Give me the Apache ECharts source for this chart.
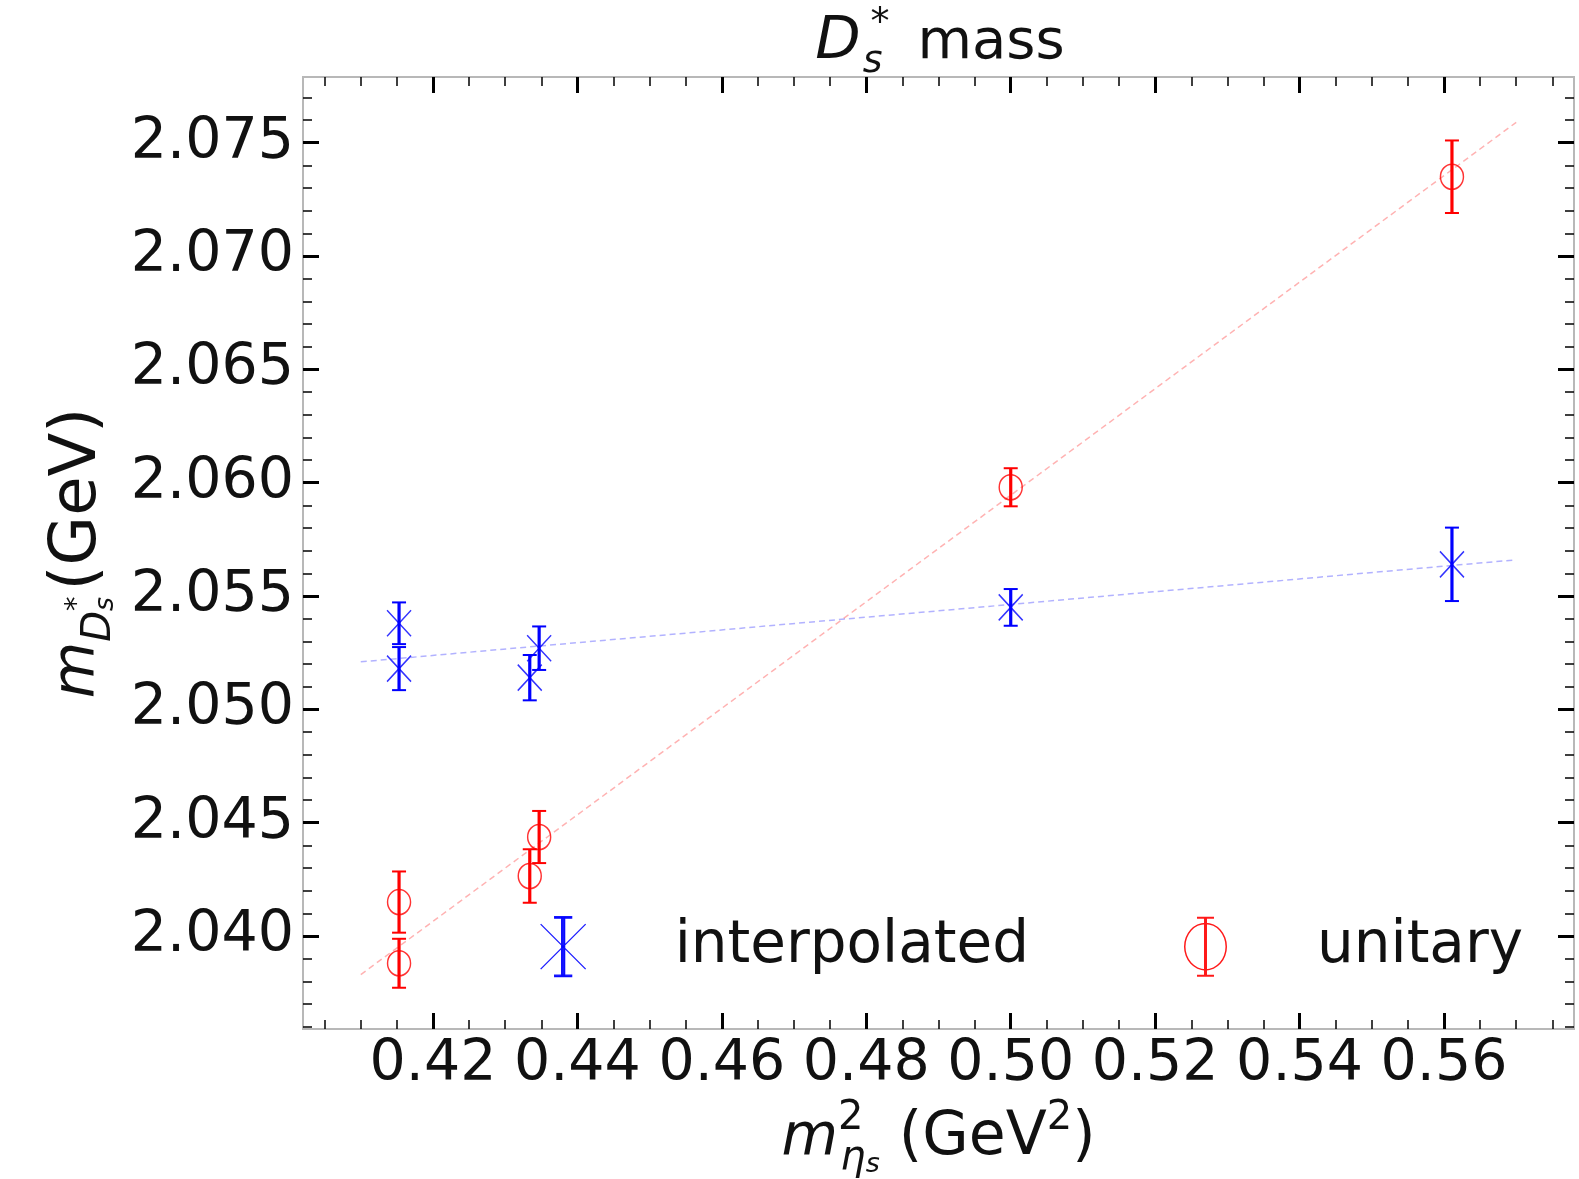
<!DOCTYPE html>
<html><head><meta charset="utf-8">
<script src="https://cdn.jsdelivr.net/npm/echarts@6/dist/echarts.min.js"></script>
<style>html,body{margin:0;padding:0;background:#fff}#c{width:1579px;height:1179px}</style>
</head><body><div id="c"></div>
<script>
// ---- data ----
const xMajorTicks = [0.42, 0.44, 0.46, 0.48, 0.50, 0.52, 0.54, 0.56];
const xMinorTicks = [0.405, 0.41, 0.415, 0.425, 0.43, 0.435, 0.445, 0.45, 0.455, 0.465, 0.47, 0.475,
  0.485, 0.49, 0.495, 0.505, 0.51, 0.515, 0.525, 0.53, 0.535, 0.545, 0.55, 0.555, 0.565, 0.57, 0.575];
const yMajorTicks = [2.040, 2.045, 2.050, 2.055, 2.060, 2.065, 2.070, 2.075];
const yMinorTicks = [2.036, 2.037, 2.038, 2.039, 2.041, 2.042, 2.043, 2.044, 2.046, 2.047, 2.048, 2.049,
  2.051, 2.052, 2.053, 2.054, 2.056, 2.057, 2.058, 2.059, 2.061, 2.062, 2.063, 2.064,
  2.066, 2.067, 2.068, 2.069, 2.071, 2.072, 2.073, 2.074, 2.076, 2.077];
const massX      = [0.4153, 0.4153, 0.4334, 0.4347, 0.5000, 0.5611];
const interpY    = [2.0538, 2.0518, 2.0514, 2.0527, 2.0545, 2.0564];
const interpErr  = [0.00092, 0.00095, 0.00100, 0.00096, 0.00081, 0.00162];
const unitaryY   = [2.0415, 2.0388, 2.04265, 2.04437, 2.0598, 2.0735];
const unitaryErr = [0.00135, 0.00108, 0.00118, 0.00115, 0.00084, 0.00160];
const fitX        = [0.41, 0.57];
const interpFitY  = [2.0521, 2.0566];
const unitaryFitY = [2.0383, 2.0759];
const xMin = 0.402, xMax = 0.578, yMin = 2.0359, yMax = 2.0779;

const FONT = 'DejaVu Sans';
const BLUE = '#0000ff', RED = '#ff0000';

function pts(xs, ys) { return xs.map((x, i) => [x, ys[i]]); }
function errPts(xs, ys, es) { return xs.map((x, i) => [x, ys[i], es[i]]); }

function errRender(color) {
  return function (params, api) {
    const x = api.value(0), y = api.value(1), e = api.value(2);
    const t = api.coord([x, y + e]), b = api.coord([x, y - e]);
    const cw = 7;
    return { type: 'group', children: [
      { type: 'line', shape: { x1: t[0], y1: t[1], x2: b[0], y2: b[1] }, style: { stroke: color, lineWidth: 3.2 } },
      { type: 'line', shape: { x1: t[0] - cw, y1: t[1], x2: t[0] + cw, y2: t[1] }, style: { stroke: color, lineWidth: 2 } },
      { type: 'line', shape: { x1: b[0] - cw, y1: b[1], x2: b[0] + cw, y2: b[1] }, style: { stroke: color, lineWidth: 2 } }
    ]};
  };
}

function xAx(pos, ticks, len, w, withLabel, extra) {
  return Object.assign({
    type: 'value', position: pos, min: xMin, max: xMax,
    axisLine: { show: false }, splitLine: { show: false },
    axisTick: { show: true, inside: true, length: len, customValues: ticks, lineStyle: { color: '#000', width: w } },
    axisLabel: withLabel ? { show: true, customValues: ticks, formatter: v => v.toFixed(2), fontSize: 57, color: '#111', margin: 8, fontFamily: FONT } : { show: false }
  }, extra || {});
}
function yAx(pos, ticks, len, w, withLabel, extra) {
  return Object.assign({
    type: 'value', position: pos, min: yMin, max: yMax,
    axisLine: { show: false }, splitLine: { show: false },
    axisTick: { show: true, inside: true, length: len, customValues: ticks, lineStyle: { color: '#000', width: w } },
    axisLabel: withLabel ? { show: true, customValues: ticks, formatter: v => v.toFixed(3), fontSize: 57, color: '#111', margin: 9, fontFamily: FONT } : { show: false }
  }, extra || {});
}

const base = { fontFamily: FONT, color: '#111', fontWeight: 'normal' };
const option = {
  animation: false,
  backgroundColor: '#fff',
  title: {
    text: '{D|D}{s|s}{st|*}{t|mass}',
    left: 935, top: 0, textAlign: 'center',
    textStyle: { fontWeight: 'normal', rich: {
      D:  Object.assign({ fontSize: 59, fontStyle: 'italic', lineHeight: 76, verticalAlign: 'middle' }, base),
      s:  Object.assign({ fontSize: 38, fontStyle: 'italic', lineHeight: 34, verticalAlign: 'bottom', padding: [0, 0, 0, 2] }, base),
      st: Object.assign({ fontSize: 38, lineHeight: 34, verticalAlign: 'top', padding: [0, 0, 0, -12] }, base),
      t:  Object.assign({ fontSize: 56, lineHeight: 76, verticalAlign: 'middle', padding: [0, 0, 0, 28] }, base)
    }}
  },
  grid: { left: 303, top: 77, width: 1271, height: 952, show: true, borderColor: '#b8b8b8', borderWidth: 2, containLabel: false, outerBoundsMode: 'none' },
  legend: {
    left: 540, top: 916, padding: 0, itemWidth: 45, itemHeight: 60, itemGap: 155, selectedMode: false,
    textStyle: { fontSize: 58, fontFamily: FONT, color: '#111', padding: [0, 0, 0, 84] },
    data: [
      { name: 'interpolated',
        icon: 'path://M0,7.5L45,52.5M45,7.5L0,52.5M21,0L24,0L24,60L21,60ZM14,0L31,0L31,1.5L14,1.5ZM14,58.5L31,58.5L31,60L14,60Z',
        itemStyle: { color: BLUE, borderColor: BLUE, borderWidth: 1.3, opacity: 0.9 } },
      { name: 'unitary',
        icon: 'path://M1,30A21.5,24 0 1 1 44,30A21.5,24 0 1 1 1,30ZM2.5,30A20,22.5 0 1 0 42.5,30A20,22.5 0 1 0 2.5,30ZM21,0L24,0L24,60L21,60ZM14,0L31,0L31,2L14,2ZM14,58L31,58L31,60L14,60Z',
        itemStyle: { color: RED, borderWidth: 0, opacity: 0.9 } }
    ]
  },
  xAxis: [
    xAx('bottom', xMajorTicks, 16, 3, true, {
      name: '{m|m}{sp|2}{sb|η}{ss|s}{g| (GeV}{sp|2}{g|)}', nameLocation: 'middle', nameGap: 64,
      nameTextStyle: { rich: {
        m:  Object.assign({ fontSize: 58, fontStyle: 'italic', lineHeight: 80, verticalAlign: 'middle' }, base),
        sp: Object.assign({ fontSize: 40, lineHeight: 40, verticalAlign: 'top' }, base),
        sb: Object.assign({ fontSize: 40, fontStyle: 'italic', lineHeight: 36, verticalAlign: 'bottom', padding: [0, 0, 0, -23] }, base),
        ss: Object.assign({ fontSize: 27, fontStyle: 'italic', lineHeight: 20, verticalAlign: 'bottom' }, base),
        g:  Object.assign({ fontSize: 60, lineHeight: 80, verticalAlign: 'middle' }, base)
      }}
    }),
    xAx('bottom', xMinorTicks, 9, 1.5, false),
    xAx('top', xMajorTicks, 16, 3, false),
    xAx('top', xMinorTicks, 9, 1.5, false)
  ],
  yAxis: [
    yAx('left', yMajorTicks, 16, 3, true, {
      name: '{m|m}{D|D}{s|s}{st|*}{g|(GeV)}', nameLocation: 'middle', nameRotate: 90, nameGap: 182,
      nameTextStyle: { rich: {
        m:  Object.assign({ fontSize: 58, fontStyle: 'italic', lineHeight: 84, verticalAlign: 'middle' }, base),
        D:  Object.assign({ fontSize: 40, fontStyle: 'italic', lineHeight: 52, verticalAlign: 'bottom' }, base),
        s:  Object.assign({ fontSize: 27, fontStyle: 'italic', lineHeight: 26, verticalAlign: 'bottom' }, base),
        st: Object.assign({ fontSize: 29, lineHeight: 29, verticalAlign: 'middle', padding: [0, 0, 0, -14] }, base),
        g:  Object.assign({ fontSize: 64, lineHeight: 84, verticalAlign: 'middle', padding: [0, 0, 0, 6] }, base)
      }}
    }),
    yAx('left', yMinorTicks, 9, 1.5, false),
    yAx('right', yMajorTicks, 16, 3, false),
    yAx('right', yMinorTicks, 9, 1.5, false)
  ],
  series: [
    { type: 'line', name: 'fitU', data: pts(fitX, unitaryFitY), symbol: 'none', silent: true,
      lineStyle: { color: RED, width: 1.5, type: [6, 4], opacity: 0.3 }, z: 1 },
    { type: 'line', name: 'fitI', data: pts(fitX, interpFitY), symbol: 'none', silent: true,
      lineStyle: { color: BLUE, width: 1.5, type: [6, 4], opacity: 0.3 }, z: 1 },
    { type: 'custom', name: 'errI', data: errPts(massX, interpY, interpErr), renderItem: errRender(BLUE),
      encode: { x: 0, y: 1 }, z: 3, silent: true },
    { type: 'custom', name: 'errU', data: errPts(massX, unitaryY, unitaryErr), renderItem: errRender(RED),
      encode: { x: 0, y: 1 }, z: 3, silent: true },
    { type: 'scatter', name: 'interpolated', data: pts(massX, interpY),
      symbol: 'path://M0,0L24,26M24,0L0,26', symbolSize: [24, 26],
      itemStyle: { color: 'rgba(0,0,0,0)', borderColor: BLUE, borderWidth: 1.5, opacity: 0.8 }, z: 4 },
    { type: 'scatter', name: 'unitary', data: pts(massX, unitaryY),
      symbol: 'circle', symbolSize: [23, 25],
      itemStyle: { color: 'rgba(0,0,0,0)', borderColor: RED, borderWidth: 1.5, opacity: 0.8 }, z: 4 }
  ]
};
echarts.init(document.getElementById('c'), null, { renderer: 'canvas' }).setOption(option);
</script>
</body></html>
